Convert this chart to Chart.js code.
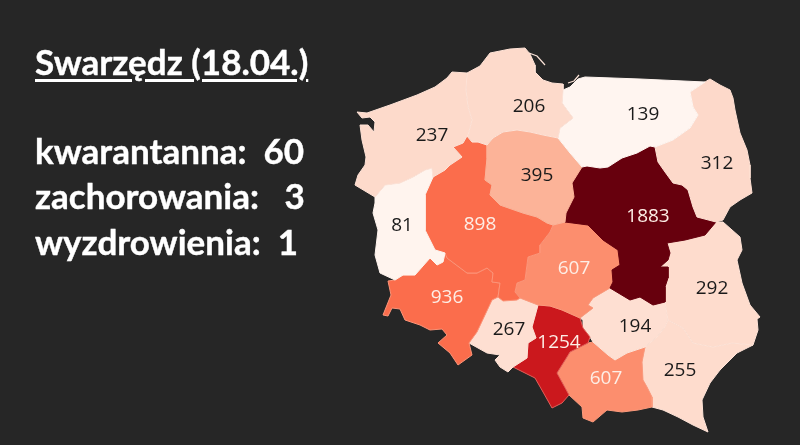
<!DOCTYPE html>
<html>
<head>
<meta charset="utf-8">
<title>Swarzędz (18.04.)</title>
<script src="https://cdn.jsdelivr.net/npm/chart.js@4"></script>
<style>
    html, body { margin: 0; padding: 0; background: #262626; overflow: hidden; }
    #wrap { position: relative; width: 800px; height: 445px; }
    #mapCanvas { position: absolute; left: 0; top: 0; }
    .side { position: absolute; left: 35px; color: #fff; font: bold 35px Lato, sans-serif; white-space: pre; line-height: 40px; -webkit-text-stroke: 0.4px #fff; }
</style>
</head>
<body>
<div id="wrap">
    <canvas id="mapCanvas" width="800" height="445"></canvas>
    <div class="side" style="top:41px;text-decoration:underline;text-underline-offset:4px;text-decoration-thickness:3px">Swarzędz (18.04.)</div>
    <div class="side" style="top:130px">kwarantanna:  60</div>
    <div class="side" style="top:175px">zachorowania:   3</div>
    <div class="side" style="top:221px">wyzdrowienia:  1</div>
</div>
<script>
const canvas = document.getElementById('mapCanvas');

const regionValues = [237, 206, 139, 312, 395, 1883, 81, 898, 607, 292, 936, 267, 1254, 194, 607, 255];
const regionColors = ['#fddacb', '#fddacb', '#fff5f0', '#fdd9ca', '#fcb398', '#67000d', '#fff4ee', '#fb6d4c',
    '#fc8e6e', '#fedccd', '#fb6d4c', '#fedfd2', '#cb181d', '#fedfd2', '#fc8e6e', '#fedccd'];
const regionBorders = ['#fee2d6', '#fee2d6', '#fff5f0', '#fee0d3', '#fcb398', '#67000d', '#fff4ee', '#fd9478',
    '#fc9a7c', '#fee3d7', '#fd9478', '#fee3d7', '#e2605a', '#fee3d7', '#fc9a7c', '#fee3d7'];
const labelPoints = [[432, 136], [529, 107], [643, 115], [717, 164], [537, 176], [648, 217], [402, 226], [480, 225],
    [574, 269], [712, 289], [447, 298], [509, 330], [559, 343], [635, 327], [606, 379], [680, 371]];
const labelColors = ['#1a1a1a', '#1a1a1a', '#1a1a1a', '#1a1a1a', '#1a1a1a', '#fdeee6', '#1a1a1a', '#fdeee6',
    '#fdeee6', '#1a1a1a', '#fdeee6', '#1a1a1a', '#fdeee6', '#1a1a1a', '#fdeee6', '#1a1a1a'];

const zachodniopomorskie = [[357,112],[367,113],[390,105],[417,95],[435,87],[447,78],[452,72],[467,73],[466,90],[468,107],[472,120],[468,135],[467,136],[463,143],[453,147],[462,157],[450,165],[445,170],[433,177],[432,168],[425,170],[413,177],[400,183],[385,185],[375,197],[355,185],[358,175],[365,165],[366,157],[362,140],[360,125],[368,125],[374,132],[375,122],[370,117],[362,118],[357,112]];
const pomorskie = [[467,73],[480,66],[490,53],[510,49],[525,48],[530,54],[535,65],[535,72],[543,80],[552,83],[563,84],[563,90],[562,103],[567,110],[573,118],[560,128],[558,138],[543,135],[530,132],[517,130],[503,132],[493,138],[487,145],[478,142],[472,142],[467,136],[468,135],[472,120],[468,107],[466,90],[467,73]];
const warminskoMazurskie = [[563,90],[570,87],[578,79],[585,77],[640,79],[705,82],[690,92],[693,107],[698,115],[690,128],[673,140],[655,147],[650,146],[637,153],[622,158],[608,167],[600,168],[587,166],[582,167],[570,153],[558,138],[560,128],[573,118],[567,110],[562,103],[563,90]];
const podlaskie = [[705,82],[710,79],[720,85],[730,90],[733,98],[735,110],[740,133],[747,150],[750,165],[750,178],[752,193],[740,200],[730,207],[723,220],[716,222],[697,217],[693,207],[688,190],[682,185],[673,183],[665,172],[658,162],[655,147],[673,140],[690,128],[698,115],[693,107],[690,92],[705,82]];
const kujawskoPomorskie = [[487,145],[493,138],[503,132],[517,130],[530,132],[543,135],[558,138],[570,153],[582,167],[572,183],[574,197],[566,213],[565,222],[553,225],[547,223],[537,217],[523,213],[500,205],[490,195],[492,185],[485,180],[487,158],[487,145]];
const mazowieckie = [[655,147],[658,162],[665,172],[673,183],[682,185],[688,190],[693,207],[697,217],[716,222],[705,235],[685,240],[667,243],[670,253],[668,260],[660,267],[668,267],[668,278],[665,287],[665,302],[653,305],[640,297],[630,300],[610,288],[613,282],[612,270],[620,265],[618,250],[603,240],[588,225],[565,222],[566,213],[574,197],[572,183],[582,167],[587,166],[600,168],[608,167],[622,158],[637,153],[650,146],[655,147]];
const lubuskie = [[375,197],[385,185],[400,183],[413,177],[425,170],[432,168],[433,177],[425,195],[425,230],[435,250],[445,253],[443,262],[437,265],[430,258],[415,275],[403,275],[395,280],[380,273],[375,255],[378,230],[373,213],[375,203],[375,197]];
const wielkopolskie = [[467,136],[472,142],[478,142],[487,145],[487,158],[485,180],[492,185],[490,195],[500,205],[523,213],[537,217],[547,223],[553,225],[550,232],[540,245],[540,253],[528,257],[525,280],[517,283],[515,292],[520,298],[517,300],[503,301],[498,297],[500,283],[492,282],[493,273],[487,268],[477,273],[467,273],[447,258],[445,253],[435,250],[425,230],[425,195],[433,177],[445,170],[450,165],[462,157],[453,147],[463,143],[467,136]];
const lodzkie = [[553,225],[565,222],[588,225],[603,240],[618,250],[620,265],[612,270],[613,282],[610,288],[593,298],[588,305],[593,308],[580,318],[562,310],[550,306],[538,305],[520,298],[515,292],[517,283],[525,280],[528,257],[540,253],[540,245],[550,232],[553,225]];
const lubelskie = [[716,222],[723,222],[740,237],[742,250],[737,260],[742,283],[750,305],[760,317],[757,319],[758,330],[753,345],[732,343],[713,347],[693,343],[683,328],[668,320],[665,302],[665,287],[668,278],[668,267],[660,267],[668,260],[670,253],[667,243],[685,240],[705,235],[716,222]];
const dolnoslaskie = [[395,280],[403,275],[415,275],[430,258],[437,265],[443,262],[445,253],[447,258],[467,273],[477,273],[487,268],[493,273],[492,282],[500,283],[498,297],[492,300],[485,315],[477,332],[469,343],[472,355],[458,365],[450,353],[438,343],[447,335],[442,329],[430,330],[420,325],[405,320],[400,309],[392,308],[388,316],[383,315],[391,295],[388,281],[395,280]];
const opolskie = [[498,297],[503,301],[517,300],[520,298],[538,305],[532,327],[536,338],[528,343],[527,358],[513,367],[508,372],[500,367],[495,360],[500,355],[487,353],[469,343],[477,332],[485,315],[492,300],[498,297]];
const slaskie = [[538,305],[550,306],[562,310],[580,318],[583,328],[590,337],[588,343],[570,352],[567,357],[557,373],[569,395],[562,403],[552,408],[543,392],[535,378],[513,367],[527,358],[528,343],[536,338],[532,327],[538,305]];
const swietokrzyskie = [[610,288],[630,300],[640,297],[653,305],[665,302],[668,320],[665,327],[657,337],[645,347],[627,353],[615,360],[608,355],[593,342],[590,337],[583,328],[583,320],[580,318],[593,308],[588,305],[593,298],[610,288]];
const malopolskie = [[588,343],[593,342],[608,355],[615,360],[627,353],[645,347],[642,362],[643,380],[647,387],[652,397],[652,407],[638,410],[622,412],[607,410],[593,422],[583,418],[582,407],[569,395],[557,373],[567,357],[570,352],[588,343]];
const podkarpackie = [[645,347],[657,337],[665,327],[668,320],[683,328],[693,343],[713,347],[732,343],[753,345],[737,353],[720,370],[710,383],[702,400],[703,417],[708,432],[693,425],[678,417],[663,410],[652,407],[652,397],[647,387],[643,380],[642,362],[645,347]];
const helPeninsula = [[529,53],[537,56],[545,65]];
const vistulaSpit = [[568,83],[574,81],[579,75]];

const regionOutlines = [zachodniopomorskie, pomorskie, warminskoMazurskie, podlaskie, kujawskoPomorskie, mazowieckie,
    lubuskie, wielkopolskie, lodzkie, lubelskie, dolnoslaskie, opolskie, slaskie, swietokrzyskie, malopolskie, podkarpackie];

const toPoints = (list) => list.map((p) => ({x: p[0], y: p[1]}));

// value labels sit on the regions, placed through the same scales
const regionLabels = {
    id: 'regionLabels',
    afterDatasetsDraw(chart) {
        const ctx = chart.ctx;
        ctx.save();
        ctx.font = '19px "Open Sans", sans-serif';
        ctx.textAlign = 'center';
        ctx.textBaseline = 'middle';
        regionValues.forEach((value, i) => {
            ctx.fillStyle = labelColors[i];
            ctx.fillText(String(value), chart.scales.x.getPixelForValue(labelPoints[i][0]), chart.scales.y.getPixelForValue(labelPoints[i][1]));
        });
        ctx.restore();
    }
};

const datasets = regionOutlines.map((outline, i) => ({
    label: String(regionValues[i]),
    data: toPoints(outline),
    showLine: true,
    fill: 'shape',
    tension: 0,
    pointRadius: 0,
    borderWidth: 1,
    borderColor: regionBorders[i],
    backgroundColor: regionColors[i]
}));

[helPeninsula, vistulaSpit].forEach((line) => {
    datasets.push({
        data: toPoints(line),
        showLine: true,
        fill: false,
        pointRadius: 0,
        borderWidth: 1.2,
        borderColor: '#fbe3d8'
    });
});

const myChart = new Chart(canvas, {
    type: 'scatter',
    data: {datasets},
    options: {
        responsive: false,
        animation: false,
        layout: {padding: 0},
        plugins: {legend: {display: false}, tooltip: {enabled: false}},
        scales: {
            x: {type: 'linear', min: 0, max: 800, display: false},
            y: {type: 'linear', min: 0, max: 445, reverse: true, display: false}
        }
    },
    plugins: [regionLabels]
});
</script>
</body>
</html>
